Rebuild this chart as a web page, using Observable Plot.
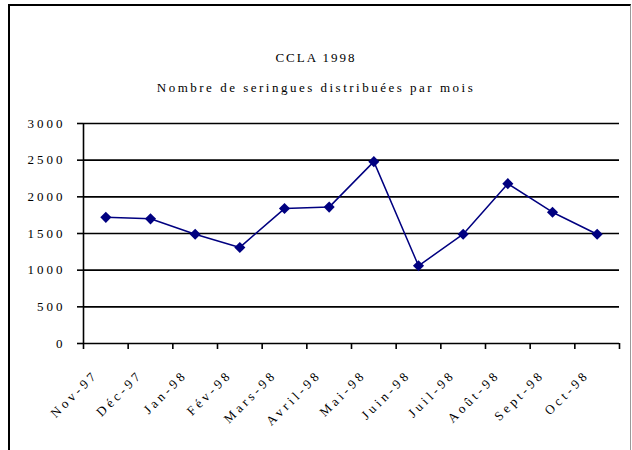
<!DOCTYPE html>
<html>
<head>
<meta charset="utf-8">
<script src="https://cdn.jsdelivr.net/npm/d3@7"></script>
<script src="https://cdn.jsdelivr.net/npm/@observablehq/plot@0.6"></script>
<style>
  html, body { margin: 0; padding: 0; background: #fff; }
  body { width: 632px; height: 450px; position: relative; overflow: hidden; font-family: "Liberation Serif", "Times New Roman", serif; color: #000; }
  #frame { position: absolute; left: 8px; top: 4px; width: 623px; height: 470px; border-left: 2px solid #000; border-top: 2px solid #000; border-right: 1px solid #999; box-sizing: border-box; }
  #header { position: relative; height: 100px; text-align: center; }
  #title { position: absolute; left: 0; width: 632px; top: 49px; font-size: 13px; letter-spacing: 2px; line-height: 18px; }
  #subtitle { position: absolute; left: 0; width: 632px; top: 79px; font-size: 13px; letter-spacing: 2.5px; line-height: 18px; }
  #chart svg { display: block; }
  #chart g[aria-label="y-axis tick label"] text { letter-spacing: 3px; }
  #chart g[aria-label="text"] text { letter-spacing: 3.5px; }
</style>
</head>
<body>
<div id="frame"></div>
<div id="header">
  <div id="title"></div>
  <div id="subtitle"></div>
</div>
<div id="chart"></div>
<script>
const title = "CCLA 1998";
const subtitle = "Nombre de seringues distribuées par mois";
const months = ["Nov-97", "Déc-97", "Jan-98", "Fév-98", "Mars-98", "Avril-98", "Mai-98", "Juin-98", "Juil-98", "Août-98", "Sept-98", "Oct-98"];
const values = [1720, 1700, 1490, 1310, 1840, 1860, 2480, 1060, 1490, 2180, 1790, 1490];
const yTicks = [0, 500, 1000, 1500, 2000, 2500, 3000];

document.getElementById("title").textContent = title;
document.getElementById("subtitle").textContent = subtitle;

const data = months.map((m, i) => ({month: m, idx: i + 0.5, value: values[i]}));
const xBounds = d3.range(months.length + 1);

const chart = Plot.plot({
  width: 632,
  height: 350,
  marginTop: 23,
  marginBottom: 107,
  marginLeft: 83,
  marginRight: 13,
  style: {fontFamily: "Liberation Serif, Times New Roman, serif", fontSize: "13px", color: "#000", background: "transparent"},
  x: {type: "linear", domain: [0, months.length]},
  y: {domain: [0, 3000]},
  marks: [
    Plot.ruleY(yTicks, {stroke: "#000", strokeWidth: 1.6}),
    Plot.ruleX([0], {stroke: "#000", strokeWidth: 1.6}),
    Plot.axisY({ticks: yTicks, tickSize: 6, tickPadding: 12, tickFormat: d => String(d), stroke: "#000", strokeWidth: 1.6, fontSize: 13, label: null}),
    Plot.axisX({ticks: xBounds, tickSize: 6, tickFormat: () => "", stroke: "#000", strokeWidth: 1.6, label: null}),
    Plot.text(data, {x: "idx", y: () => 0, text: "month", rotate: -45, textAnchor: "end", dx: -10, dy: 29, fontSize: 13, fill: "#000"}),
    Plot.line(data, {x: "idx", y: "value", stroke: "#000080", strokeWidth: 1.5}),
    Plot.dot(data, {x: "idx", y: "value", symbol: "diamond2", r: 5, fill: "#000080", stroke: "none"})
  ]
});
document.getElementById("chart").appendChild(chart);
</script>
</body>
</html>
